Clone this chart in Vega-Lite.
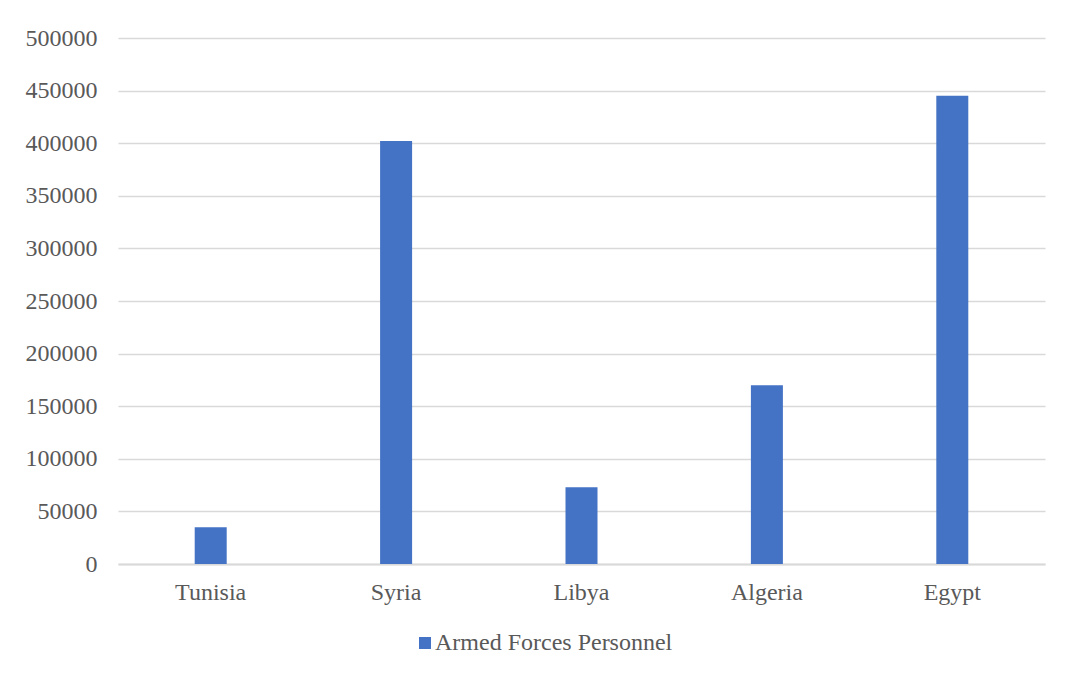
{
  "$schema": "https://vega.github.io/schema/vega-lite/v6.json",
  "width": 927,
  "height": 526,
  "autosize": {"type": "none"},
  "padding": {"left": 118, "top": 38, "right": 24, "bottom": 113},
  "background": "white",
  "data": {
    "values": [
      {"country": "Tunisia", "personnel": 35000, "series": "Armed Forces Personnel"},
      {"country": "Syria", "personnel": 402000, "series": "Armed Forces Personnel"},
      {"country": "Libya", "personnel": 73000, "series": "Armed Forces Personnel"},
      {"country": "Algeria", "personnel": 170000, "series": "Armed Forces Personnel"},
      {"country": "Egypt", "personnel": 445000, "series": "Armed Forces Personnel"}
    ]
  },
  "mark": {"type": "bar", "size": 32},
  "encoding": {
    "x": {
      "field": "country",
      "type": "nominal",
      "sort": null,
      "scale": {"paddingInner": 0, "paddingOuter": 0},
      "axis": {
        "title": null,
        "labelAngle": 0,
        "ticks": false,
        "domain": true,
        "domainColor": "#d9d9d9",
        "domainWidth": 2,
        "labelPadding": 16,
        "labelFont": "Liberation Serif",
        "labelFontSize": 24,
        "labelColor": "#595959"
      }
    },
    "y": {
      "field": "personnel",
      "type": "quantitative",
      "scale": {"domain": [0, 500000], "nice": false},
      "axis": {
        "title": null,
        "values": [0, 50000, 100000, 150000, 200000, 250000, 300000, 350000, 400000, 450000, 500000],
        "format": "d",
        "domain": false,
        "ticks": false,
        "grid": true,
        "gridColor": "#d9d9d9",
        "gridWidth": 1.5,
        "labelPadding": 21,
        "labelFont": "Liberation Serif",
        "labelFontSize": 24,
        "labelColor": "#595959"
      }
    },
    "color": {
      "field": "series",
      "type": "nominal",
      "scale": {"range": ["#4472C4"]},
      "legend": {
        "title": null,
        "orient": "none",
        "legendX": 295,
        "legendY": 593,
        "direction": "horizontal",
        "symbolType": "square",
        "symbolSize": 144,
        "symbolStrokeWidth": 0,
        "labelOffset": -2,
        "labelLimit": 0,
        "labelFont": "Liberation Serif",
        "labelFontSize": 24,
        "labelColor": "#595959"
      }
    }
  },
  "config": {
    "view": {"stroke": null}
  }
}
